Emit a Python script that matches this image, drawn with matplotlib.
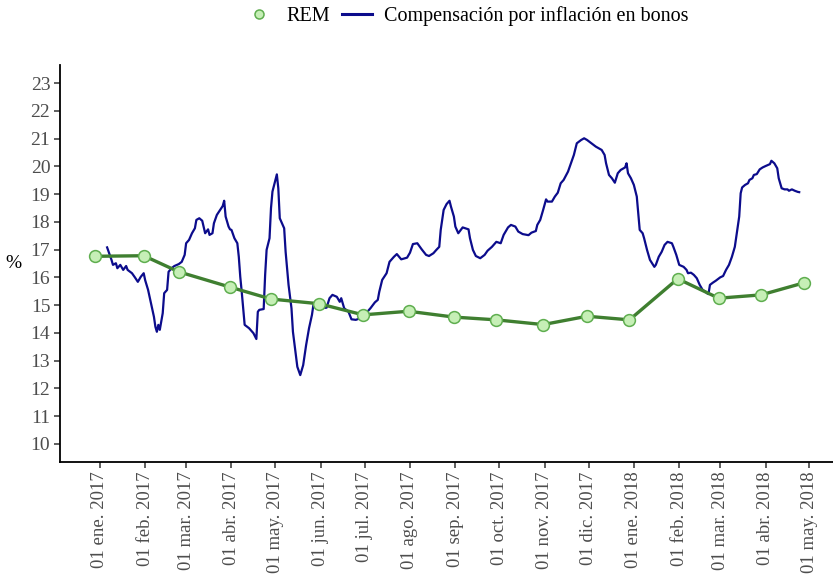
import numpy as np
import matplotlib
matplotlib.use("Agg")
import matplotlib.pyplot as plt
from matplotlib.lines import Line2D

plt.rcParams['font.family'] = ['Liberation Serif', 'DejaVu Serif']

# REM survey (monthly)
rem_dates = ['2016-12-29', '2017-01-31', '2017-02-24', '2017-03-31', '2017-04-28',
             '2017-05-31', '2017-06-30', '2017-07-31', '2017-08-31', '2017-09-29',
             '2017-10-31', '2017-11-30', '2017-12-29', '2018-01-31', '2018-02-28',
             '2018-03-29', '2018-04-27']
rem_values = [16.76, 16.78, 16.20, 15.65, 15.22, 15.05, 14.65, 14.78, 14.57, 14.47,
              14.30, 14.60, 14.47, 15.95, 15.25, 15.37, 15.80]

# breakeven inflation from bonds (daily)
bond_dates = [
    '2017-01-06', '2017-01-09', '2017-01-10', '2017-01-12', '2017-01-13', '2017-01-15',
    '2017-01-17', '2017-01-19', '2017-01-20', '2017-01-23', '2017-01-25', '2017-01-27',
    '2017-01-29', '2017-01-31', '2017-02-01', '2017-02-03', '2017-02-05', '2017-02-07',
    '2017-02-08', '2017-02-09', '2017-02-10', '2017-02-11', '2017-02-12', '2017-02-13',
    '2017-02-14', '2017-02-16', '2017-02-17', '2017-02-19', '2017-02-21', '2017-02-24',
    '2017-02-26', '2017-02-28', '2017-03-01', '2017-03-03', '2017-03-05', '2017-03-07',
    '2017-03-08', '2017-03-10', '2017-03-12', '2017-03-13', '2017-03-14', '2017-03-16',
    '2017-03-17', '2017-03-19', '2017-03-20', '2017-03-22', '2017-03-23', '2017-03-25',
    '2017-03-26', '2017-03-27', '2017-03-28', '2017-03-30', '2017-03-31', '2017-04-01',
    '2017-04-03', '2017-04-05', '2017-04-06', '2017-04-07', '2017-04-08', '2017-04-10',
    '2017-04-13', '2017-04-16', '2017-04-18', '2017-04-19', '2017-04-20', '2017-04-23',
    '2017-04-24', '2017-04-25', '2017-04-27', '2017-04-28', '2017-04-29', '2017-05-02',
    '2017-05-03', '2017-05-04', '2017-05-07', '2017-05-08', '2017-05-10', '2017-05-12',
    '2017-05-13', '2017-05-15', '2017-05-16', '2017-05-18', '2017-05-20', '2017-05-22',
    '2017-05-24', '2017-05-26', '2017-05-27', '2017-05-28', '2017-05-29', '2017-05-31',
    '2017-06-02', '2017-06-05', '2017-06-07', '2017-06-09', '2017-06-12', '2017-06-14',
    '2017-06-15', '2017-06-17', '2017-06-20', '2017-06-22', '2017-06-25', '2017-06-28',
    '2017-06-30', '2017-07-02', '2017-07-05', '2017-07-08', '2017-07-10', '2017-07-11',
    '2017-07-13', '2017-07-16', '2017-07-18', '2017-07-21', '2017-07-23', '2017-07-26',
    '2017-07-30', '2017-08-01', '2017-08-03', '2017-08-06', '2017-08-09', '2017-08-12',
    '2017-08-14', '2017-08-17', '2017-08-19', '2017-08-21', '2017-08-22', '2017-08-24',
    '2017-08-26', '2017-08-28', '2017-08-29', '2017-08-31', '2017-09-01', '2017-09-03',
    '2017-09-06', '2017-09-10', '2017-09-11', '2017-09-13', '2017-09-15', '2017-09-18',
    '2017-09-21', '2017-09-23', '2017-09-26', '2017-09-29', '2017-10-02', '2017-10-04',
    '2017-10-07', '2017-10-09', '2017-10-12', '2017-10-14', '2017-10-17', '2017-10-21',
    '2017-10-23', '2017-10-26', '2017-10-27', '2017-10-29', '2017-10-31', '2017-11-02',
    '2017-11-03', '2017-11-06', '2017-11-08', '2017-11-10', '2017-11-12', '2017-11-14',
    '2017-11-17', '2017-11-19', '2017-11-21', '2017-11-23', '2017-11-26', '2017-11-28',
    '2017-11-30', '2017-12-03', '2017-12-06', '2017-12-10', '2017-12-12', '2017-12-13',
    '2017-12-15', '2017-12-17', '2017-12-19', '2017-12-21', '2017-12-23', '2017-12-26',
    '2017-12-27', '2017-12-28', '2017-12-30', '2018-01-01', '2018-01-03', '2018-01-04',
    '2018-01-05', '2018-01-07', '2018-01-08', '2018-01-10', '2018-01-12', '2018-01-15',
    '2018-01-16', '2018-01-18', '2018-01-20', '2018-01-22', '2018-01-24', '2018-01-27',
    '2018-01-28', '2018-01-30', '2018-02-01', '2018-02-04', '2018-02-06', '2018-02-07',
    '2018-02-09', '2018-02-11', '2018-02-13', '2018-02-15', '2018-02-17', '2018-02-19',
    '2018-02-20', '2018-02-21', '2018-02-22', '2018-02-24', '2018-02-26', '2018-03-01',
    '2018-03-03', '2018-03-05', '2018-03-07', '2018-03-09', '2018-03-11', '2018-03-12',
    '2018-03-14', '2018-03-15', '2018-03-16', '2018-03-18', '2018-03-20', '2018-03-21',
    '2018-03-23', '2018-03-24', '2018-03-26', '2018-03-28', '2018-03-30', '2018-04-01',
    '2018-04-04', '2018-04-05', '2018-04-07', '2018-04-09', '2018-04-10', '2018-04-12',
    '2018-04-14', '2018-04-16', '2018-04-17', '2018-04-19', '2018-04-21', '2018-04-23',
    '2018-04-24']
bond_values = [
    17.08, 16.63, 16.45, 16.51, 16.33, 16.45, 16.27, 16.41, 16.27, 16.15, 16.00, 15.84,
    16.02, 16.15, 15.90, 15.55, 15.07, 14.58, 14.22, 14.04, 14.29, 14.11, 14.40, 14.71,
    15.43, 15.55, 16.20, 16.33, 16.41, 16.48, 16.56, 16.81, 17.23, 17.35, 17.59, 17.77,
    18.07, 18.13, 18.04, 17.82, 17.59, 17.73, 17.53, 17.59, 17.95, 18.25, 18.33, 18.49,
    18.57, 18.76, 18.19, 17.83, 17.73, 17.71, 17.41, 17.23, 16.74, 16.02, 15.48, 14.29,
    14.17, 13.99, 13.78, 14.76, 14.83, 14.86, 16.09, 16.99, 17.41, 18.49, 19.09, 19.71,
    19.21, 18.13, 17.77, 16.92, 15.73, 14.89, 14.04, 13.20, 12.78, 12.48, 12.84, 13.56,
    14.17, 14.65, 15.01, 15.03, 14.89, 15.01, 14.89, 14.91, 15.25, 15.37, 15.30, 15.12,
    15.25, 14.89, 14.76, 14.49, 14.47, 14.53, 14.50, 14.71, 14.89, 15.10, 15.19, 15.48,
    15.91, 16.15, 16.56, 16.74, 16.84, 16.65, 16.71, 16.89, 17.20, 17.23, 17.01, 16.81,
    16.77, 16.87, 16.99, 17.10, 17.71, 18.43, 18.64, 18.76, 18.55, 18.19, 17.83, 17.59,
    17.80, 17.73, 17.41, 16.99, 16.77, 16.69, 16.81, 16.96, 17.10, 17.28, 17.23, 17.53,
    17.80, 17.89, 17.83, 17.65, 17.56, 17.52, 17.61, 17.67, 17.89, 18.07, 18.43, 18.81,
    18.73, 18.73, 18.91, 19.05, 19.39, 19.51, 19.81, 20.11, 20.41, 20.83, 20.95, 21.01,
    20.95, 20.83, 20.71, 20.59, 20.41, 20.11, 19.69, 19.57, 19.41, 19.75, 19.87, 19.96,
    20.11, 19.75, 19.57, 19.33, 18.91, 18.31, 17.71, 17.59, 17.41, 16.99, 16.63, 16.38,
    16.45, 16.74, 16.92, 17.17, 17.28, 17.23, 17.10, 16.81, 16.45, 16.38, 16.27, 16.15,
    16.17, 16.09, 15.97, 15.73, 15.55, 15.48, 15.43, 15.40, 15.73, 15.81, 15.88, 16.00,
    16.05, 16.27, 16.45, 16.74, 17.10, 17.47, 18.19, 19.03, 19.24, 19.33, 19.39, 19.51,
    19.57, 19.69, 19.72, 19.89, 19.96, 20.01, 20.08, 20.20, 20.11, 19.93, 19.57, 19.21,
    19.17, 19.17, 19.12, 19.17, 19.12, 19.08, 19.07]

tick_dates = ['2017-01-01', '2017-02-01', '2017-03-01', '2017-04-01', '2017-05-01',
              '2017-06-01', '2017-07-01', '2017-08-01', '2017-09-01', '2017-10-01',
              '2017-11-01', '2017-12-01', '2018-01-01', '2018-02-01', '2018-03-01',
              '2018-04-01', '2018-05-01']
tick_labels = ['01 ene. 2017', '01 feb. 2017', '01 mar. 2017', '01 abr. 2017',
               '01 may. 2017', '01 jun. 2017', '01 jul. 2017', '01 ago. 2017',
               '01 sep. 2017', '01 oct. 2017', '01 nov. 2017', '01 dic. 2017',
               '01 ene. 2018', '01 feb. 2018', '01 mar. 2018', '01 abr. 2018',
               '01 may. 2018']
y_ticks = list(range(10, 24))

blue = '#0c0c8c'
green = '#3f7f30'
green_fill = '#c6efb6'
green_edge = '#5fae4f'
grey_txt = '#4d4d4d'

fig = plt.figure(figsize=(8.33, 5.77), dpi=100)
ax = fig.add_axes([60 / 833, 1 - 462 / 577, 779 / 833, 397 / 577])

rem_x = np.array(rem_dates, dtype='datetime64[D]')
bond_x = np.array(bond_dates, dtype='datetime64[D]')

ax.plot(bond_x, bond_values, color=blue, lw=1.6, zorder=2)
ax.plot(rem_x, rem_values, color=green, lw=2.4, zorder=3)
ax.plot(rem_x, rem_values, ls='none', marker='o', ms=8.5, mfc=green_fill,
        mec=green_edge, mew=1.1, zorder=4)

ax.set_ylim(9.35, 23.65)
ax.set_yticks(y_ticks)
ax.set_xticks(np.array(tick_dates, dtype='datetime64[D]'))
ax.set_xticklabels(tick_labels, rotation=90)
ax.margins(x=0.05)

for s in ['top', 'right']:
    ax.spines[s].set_visible(False)
for s in ['left', 'bottom']:
    ax.spines[s].set_linewidth(1.3)
ax.tick_params(axis='both', length=4, width=1.1, color='#333333',
               labelsize=13.5, labelcolor=grey_txt, pad=3)
ax.tick_params(axis='y', labelsize=14)

ax.set_ylabel('%', rotation=0, fontsize=14, color='black', labelpad=12, va='center')

handles = [
    Line2D([], [], ls='none', marker='o', ms=6.5, mfc=green_fill, mec=green_edge, mew=1.1),
    Line2D([], [], color=blue, lw=2.2),
]
fig.legend(handles, ['REM', 'Compensación por inflación en bonos'], loc='center',
           bbox_to_anchor=(0.56, 0.972), ncol=2, frameon=False, fontsize=14.5,
           handlelength=1.5, handletextpad=0.6, columnspacing=0.6)

fig.savefig('out.png', dpi=100)
